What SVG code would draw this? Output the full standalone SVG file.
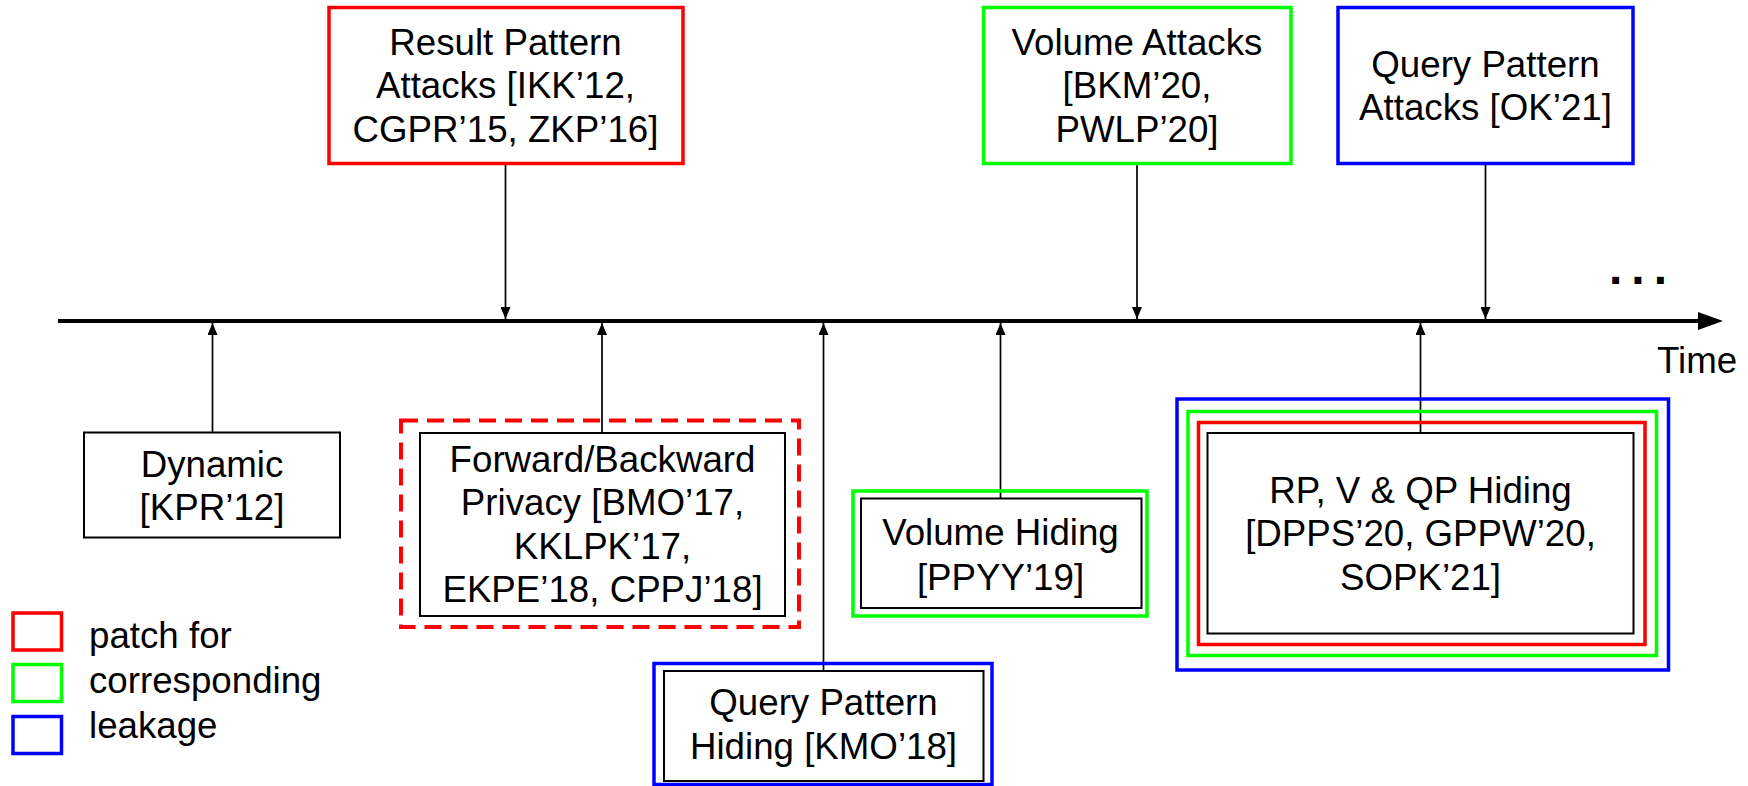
<svg xmlns="http://www.w3.org/2000/svg" width="1748" height="786" viewBox="0 0 1748 786">
<defs>
<style>
text{font-family:"Liberation Sans",Arial,sans-serif;font-size:36.7px;fill:#000}
.c{text-anchor:middle}
.bk{fill:#fff;stroke:#000;stroke-width:2}
.r{fill:none;stroke:#ff0000;stroke-width:3.5}
.g{fill:none;stroke:#00ff00;stroke-width:3.5}
.b{fill:none;stroke:#0000ff;stroke-width:3.5}
.conn{stroke:#000;stroke-width:1.7;fill:none}
</style>
<marker id="ah" viewBox="0 0 12 10" refX="12" refY="5" markerWidth="12" markerHeight="10" markerUnits="userSpaceOnUse" orient="auto">
<path d="M0,0 L12,5 L0,10 Z" fill="#000"/>
</marker>
</defs>
<rect width="1748" height="786" fill="#fff"/>

<g id="timeline">
<line x1="58" y1="321" x2="1702" y2="321" stroke="#000" stroke-width="4"/>
<polygon points="1698,312 1723,321 1698,330" fill="#000"/>
<text x="1657" y="373">Time</text>
<text x="1609" y="284" style="font-size:48px;font-weight:bold;letter-spacing:9px">...</text>
</g>

<g id="connectors">
<line class="conn" x1="505.5" y1="164" x2="505.5" y2="319" marker-end="url(#ah)"/>
<line class="conn" x1="1137" y1="164" x2="1137" y2="319" marker-end="url(#ah)"/>
<line class="conn" x1="1485.5" y1="164" x2="1485.5" y2="319" marker-end="url(#ah)"/>
<line class="conn" x1="212.5" y1="432" x2="212.5" y2="323" marker-end="url(#ah)"/>
<line class="conn" x1="602" y1="433" x2="602" y2="323" marker-end="url(#ah)"/>
<line class="conn" x1="823.5" y1="671" x2="823.5" y2="323" marker-end="url(#ah)"/>
<line class="conn" x1="1000.5" y1="498" x2="1000.5" y2="323" marker-end="url(#ah)"/>
<line class="conn" x1="1420.5" y1="433" x2="1420.5" y2="323" marker-end="url(#ah)"/>
</g>

<g id="result-pattern-attacks">
<rect class="r" x="329" y="7.5" width="354" height="156" fill="#fff"/>
<text class="c" x="505.5" y="54.5">Result Pattern</text>
<text class="c" x="505.5" y="98">Attacks [IKK’12,</text>
<text class="c" x="505.5" y="141.5">CGPR’15, ZKP’16]</text>
</g>

<g id="volume-attacks">
<rect class="g" x="983.5" y="7.5" width="307.5" height="156"/>
<text class="c" x="1137" y="54.5">Volume Attacks</text>
<text class="c" x="1137" y="98">[BKM’20,</text>
<text class="c" x="1137" y="141.5">PWLP’20]</text>
</g>

<g id="query-pattern-attacks">
<rect class="b" x="1338" y="7.5" width="295" height="156"/>
<text class="c" x="1485.5" y="76.5">Query Pattern</text>
<text class="c" x="1485.5" y="120">Attacks [OK’21]</text>
</g>

<g id="dynamic">
<rect class="bk" x="84" y="432.5" width="256" height="105"/>
<text class="c" x="212" y="476.5">Dynamic</text>
<text class="c" x="212" y="520">[KPR’12]</text>
</g>

<g id="forward-backward-privacy">
<rect x="401" y="420.5" width="398" height="206.5" fill="none" stroke="#ff0000" stroke-width="4" stroke-dasharray="17,9"/>
<rect class="bk" x="420" y="433" width="365" height="183" fill="none"/>
<text class="c" x="602.5" y="471.5">Forward/Backward</text>
<text class="c" x="602.5" y="515">Privacy [BMO’17,</text>
<text class="c" x="602.5" y="558.5">KKLPK’17,</text>
<text class="c" x="602.5" y="602">EKPE’18, CPPJ’18]</text>
</g>

<g id="query-pattern-hiding">
<rect class="b" x="654" y="663.5" width="338" height="121"/>
<rect class="bk" x="664" y="671" width="319.5" height="110" fill="none"/>
<text class="c" x="823.5" y="715">Query Pattern</text>
<text class="c" x="823.5" y="759">Hiding [KMO’18]</text>
</g>

<g id="volume-hiding">
<rect class="g" x="853" y="491" width="294" height="125"/>
<rect class="bk" x="861" y="498.5" width="280.5" height="109.5" fill="none"/>
<text class="c" x="1000.5" y="545">Volume Hiding</text>
<text class="c" x="1000.5" y="589.5">[PPYY’19]</text>
</g>

<g id="rp-v-qp-hiding">
<rect class="b" x="1177" y="399" width="491.5" height="271"/>
<rect class="g" x="1188" y="411.5" width="468.5" height="244"/>
<rect class="r" x="1198.5" y="422.5" width="446.5" height="222"/>
<rect class="bk" x="1207.5" y="433" width="426" height="200.5" fill="none"/>
<text class="c" x="1420.5" y="502.5">RP, V &amp; QP Hiding</text>
<text class="c" x="1420.5" y="546">[DPPS’20, GPPW’20,</text>
<text class="c" x="1420.5" y="589.5">SOPK’21]</text>
</g>

<g id="legend">
<rect class="r" x="13" y="613" width="48.5" height="37"/>
<rect class="g" x="13" y="664.5" width="48.5" height="37"/>
<rect class="b" x="13" y="716.5" width="48.5" height="37"/>
<text x="89" y="648">patch for</text>
<text x="89" y="692.5">corresponding</text>
<text x="89" y="738">leakage</text>
</g>
</svg>
